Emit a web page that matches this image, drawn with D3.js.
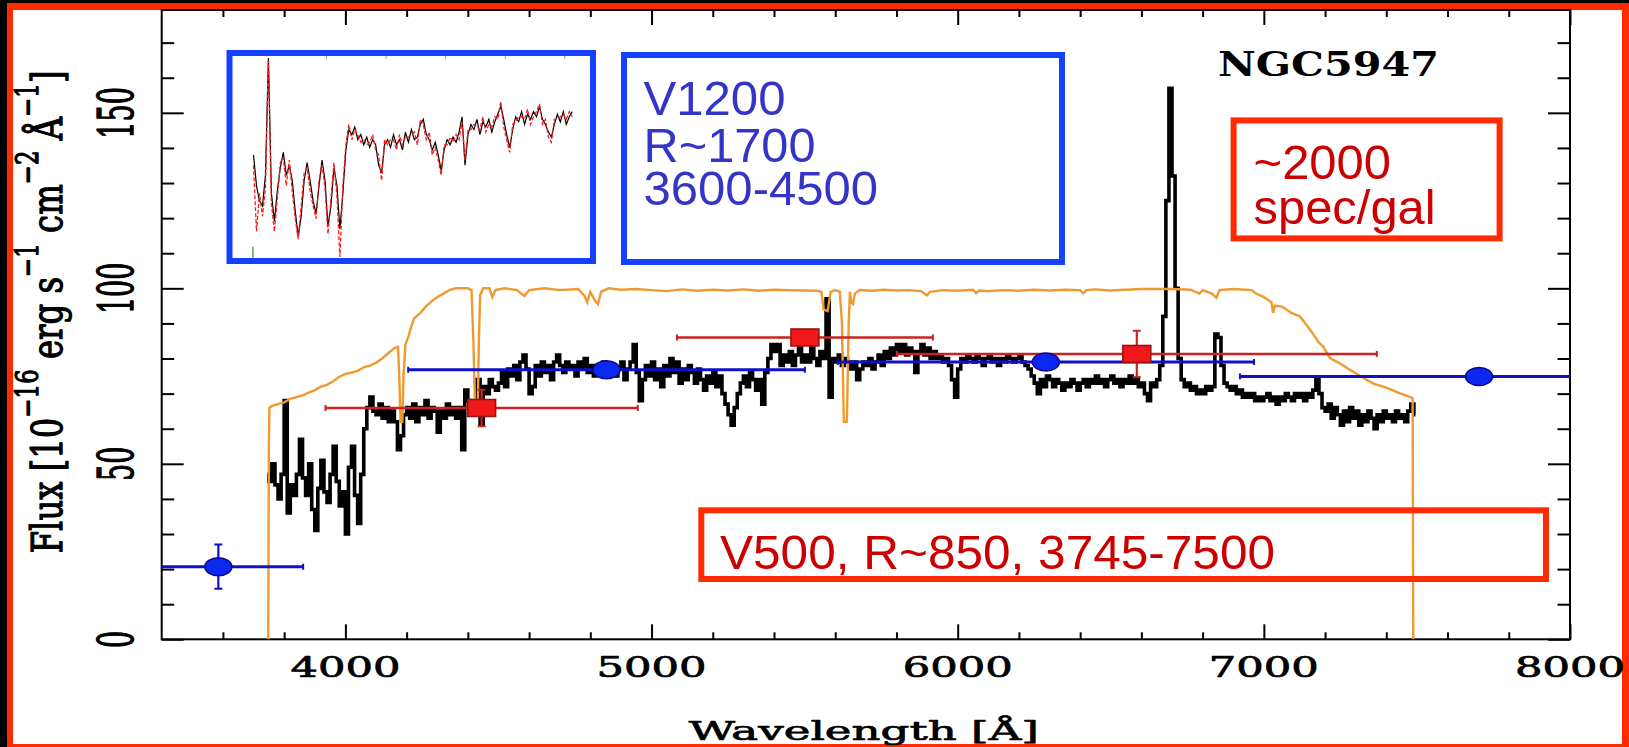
<!DOCTYPE html>
<html>
<head>
<meta charset="utf-8">
<script src="https://cdn.jsdelivr.net/npm/d3@7"></script>
<style>
  html, body { margin: 0; padding: 0; background: #000; overflow: hidden; }
  svg { display: block; }
</style>
</head>
<body>
<svg id="chart" width="1629" height="747"></svg>
<script>
// ---------------- data ----------------
const xMajorTicks = [4000, 5000, 6000, 7000, 8000];
const yMajorTicks = [0, 50, 100, 150];

// V500 spectrum of NGC5947, flux per 10 A bin starting at 3745 A
const v500Start = 3745, v500Step = 10;
const v500Flux = [
  47, 45, 50, 44, 40, 47, 68, 36, 44, 41, 47, 57, 46, 41, 50, 37, 31, 43, 51, 42,
  39, 47, 55, 45, 38, 42, 30, 49, 55, 41, 33, 47, 60, 66, 69, 65,
  64, 67, 63, 66, 62, 65, 62, 54, 58, 64, 66, 63, 67, 62, 66, 64, 68, 63, 66, 65,
  59, 65, 63, 67, 64, 66, 63, 66, 54, 71, 68, 66, 66, 74, 61, 72, 70, 74, 72, 71,
  73, 76, 72, 77, 75, 78, 74, 79, 81, 77, 70, 72, 78, 75, 79, 76, 78, 74, 79, 81,
  78, 76, 79, 77, 78, 75, 79, 77, 80, 76, 78, 75, 78, 76, 79, 77, 76, 78, 75, 77,
  79, 74, 77, 79, 84, 76, 68, 74, 78, 75,
  79, 74, 77, 72, 78, 75, 80, 76, 79, 73, 77, 74, 78, 76, 73, 77, 74, 71, 75, 73,
  76, 72, 75, 70, 67, 64, 61, 66, 70, 73, 75, 72, 76, 74, 71, 74, 67, 76, 80, 84,
  82, 84, 78, 81, 79, 82, 78, 81, 83, 79,
  81, 79, 83, 80, 78, 82, 80, 97, 69, 80, 79, 81, 78, 80, 79, 77, 79, 74, 77, 79,
  78, 80, 77, 79, 81, 78, 82, 80, 83, 81, 84, 82, 84, 81, 83, 82, 76, 82, 84, 81,
  83, 80, 82, 80, 81, 79, 80, 78, 74, 69,
  77, 80, 79, 81, 80, 79, 81, 80, 78, 80, 81, 79, 80, 78, 80, 79, 81, 80, 79, 80,
  81, 79, 78, 77, 75, 73, 70, 74, 72, 75, 74, 72, 74, 73, 71, 73, 72, 74, 73, 71,
  73, 74, 72, 74, 73, 75, 73, 74, 72, 74,
  75, 73, 74, 72, 74, 73, 75, 73, 74, 72, 73, 70, 68, 73, 72, 74, 78, 92, 125, 157,
  132, 100, 80, 74, 72, 73, 71, 72, 70, 71, 70, 72, 71, 72, 87, 86, 78, 73, 72, 71,
  72, 70, 71, 69, 70, 69, 70, 68, 69, 68,
  69, 70, 68, 69, 67, 69, 68, 70, 69, 68, 70, 69, 70, 68, 70, 69, 71, 74, 70, 66,
  65, 67, 63, 66, 64, 61, 65, 62, 66, 63, 65, 61, 64, 62, 65, 63, 60, 64, 62, 65,
  63, 64, 62, 65, 63, 64, 62, 65, 67, 64
];

// instrument throughput, scaled to the flux axis [wavelength, value]
const throughputCurve = [
  [3745, 0], [3748, 0], [3750, 55], [3752, 66], [3760, 66.5], [3780, 67], [3800, 67.5],
  [3820, 68.5], [3840, 69], [3860, 69.5], [3880, 70.3], [3900, 71], [3920, 72], [3940, 72.5],
  [3960, 73.5], [3980, 74.8], [4000, 75.6], [4020, 76], [4040, 76.5], [4060, 77.5], [4080, 78],
  [4100, 78.8], [4120, 80], [4140, 81.5], [4160, 83], [4172, 83.3], [4176, 75], [4180, 62],
  [4186, 62], [4190, 75], [4196, 84], [4205, 86], [4215, 89], [4225, 91.5], [4245, 93],
  [4265, 95], [4285, 96.5], [4300, 97.5], [4320, 98.5], [4340, 99.5], [4360, 100], [4400, 100],
  [4412, 99.5], [4418, 85], [4424, 64], [4432, 64], [4436, 85], [4440, 98], [4450, 100],
  [4470, 100], [4480, 97.5], [4490, 99.5], [4520, 100], [4560, 99.5], [4585, 97.8], [4600, 99.5],
  [4650, 100], [4700, 99.5], [4760, 99.8], [4780, 98], [4790, 96], [4800, 99], [4815, 96.5],
  [4825, 95.5], [4835, 99], [4860, 100], [4900, 99.6], [4950, 99.8], [5000, 99.5], [5050, 99.2],
  [5100, 99.7], [5150, 99.3], [5200, 99.6], [5250, 99.4], [5300, 99.7], [5350, 99.3], [5400, 99.6],
  [5450, 99.5], [5500, 99.4], [5540, 99.3], [5555, 99], [5562, 94], [5575, 93.5], [5585, 99],
  [5600, 99.5], [5615, 99], [5622, 90], [5628, 62], [5638, 62], [5644, 90], [5648, 99],
  [5652, 96], [5658, 95.5], [5664, 98.5], [5680, 99.5], [5720, 99.3], [5760, 99.6], [5800, 99.4],
  [5840, 99.5], [5880, 99.2], [5900, 98], [5910, 99], [5950, 99.5], [6000, 99.3], [6050, 99.6],
  [6060, 98.6], [6070, 99.4], [6100, 99.2], [6150, 99.5], [6200, 99.3], [6250, 99.6], [6300, 99.4],
  [6350, 99.6], [6400, 99.5], [6410, 98.6], [6420, 99.5], [6450, 99.7], [6500, 99.4], [6550, 99.6],
  [6600, 99.8], [6650, 99.8], [6700, 99.8], [6760, 99.6], [6790, 98.5], [6800, 99.5], [6830, 98.5],
  [6845, 97.3], [6855, 99.5], [6900, 99.8], [6960, 99.5], [6975, 98.5], [7000, 97.5], [7025, 96],
  [7030, 93], [7036, 95], [7060, 94.8], [7090, 93], [7118, 92], [7140, 89.5], [7162, 86.8],
  [7180, 84.5], [7194, 83.4], [7216, 80.1], [7250, 78.5], [7281, 76.8], [7310, 75.3], [7336, 73.9],
  [7360, 72.8], [7390, 72], [7420, 71], [7445, 70.1], [7470, 69.3], [7486, 68.7], [7488, 0]
];

// broad-band photometry (blue) and synthetic photometry (red)
const bandWave = [3585, 4853, 6288, 7703];
const bandFlux = [20.7, 76.8, 79.0, 74.9];
const bandHalfWidth = [277, 648, 680, 781];
const bandFluxErr = [6.3, 0, 0, 0];

const synthWave = [4445, 5501, 6585];
const synthFlux = [65.9, 86.0, 81.3];
const synthHalfWidth = [510, 418, 784];
const synthFluxErr = [5.2, 0, 6.6];

// V1200 blue spectrum (observed and model), 10 A bins from 3755 A
const v1200Start = 3755, v1200Step = 10;
const v1200Flux = [
  60, 48, 42, 40, 52, 98, 45, 34, 46, 55, 61, 52, 56, 50, 38, 28, 36, 50, 57, 50,
  42, 37, 48, 58, 50, 32, 40, 55, 48, 31, 45, 62, 70, 68, 71, 66, 68, 64, 67, 63,
  66, 64, 56, 53, 64, 66, 63, 68, 64, 66, 62, 69, 65, 70, 66, 67, 72, 74, 68, 66,
  62, 65, 60, 54, 62, 66, 64, 67, 65, 69, 75, 56, 68, 72, 70, 74, 68, 73, 71, 74,
  69, 73, 76, 79, 74, 68, 63, 70, 75, 73, 77, 72, 76, 74, 77, 75, 79, 74, 72, 69,
  67, 72, 76, 73, 77, 72, 75, 77
];
const v1200Model = [
  56, 30, 45, 36, 47, 97, 41, 30, 43, 57, 59, 48, 58, 46, 35, 27, 40, 53, 55, 46,
  40, 35, 50, 56, 47, 29, 43, 57, 44, 20, 48, 64, 72, 66, 70, 68, 65, 66, 64, 65,
  68, 62, 60, 50, 66, 64, 66, 66, 62, 68, 64, 67, 67, 68, 69, 64, 74, 72, 66, 69,
  60, 63, 58, 52, 64, 64, 67, 65, 68, 66, 73, 58, 70, 70, 72, 71, 70, 75, 69, 72,
  71, 75, 74, 81, 71, 66, 61, 72, 73, 75, 75, 74, 78, 72, 75, 77, 80, 72, 74, 67,
  65, 74, 74, 75, 76, 74, 77, 75
];
const v1200Ticks = [4000, 4200, 4400, 4600, 4800];
const v1200Marker = [[3753, 19.6], [3753, 24]];

// annotation texts
const v1200Lines = ['V1200', 'R~1700', '3600-4500'];
const sampleLines = ['~2000', 'spec/gal'];
const v500Note = 'V500, R~850, 3745-7500';

// ---------------- layout ----------------
const W = 1629, H = 747;
const plot = { left: 161.7, right: 1570, top: 10, bottom: 639.3 };
const serif = "'DejaVu Serif', serif";
const sans = "'Liberation Sans', Arial, sans-serif";

const svg = d3.select('#chart');

// page frame
svg.append('rect').attr('width', W).attr('height', H).attr('fill', '#000');
svg.append('rect').attr('x', 7).attr('y', 3).attr('width', W).attr('height', H).attr('fill', '#ff2a00');
svg.append('rect').attr('x', 13).attr('y', 10).attr('width', 1609).attr('height', 734).attr('fill', '#fff');

const x = d3.scaleLinear().domain([3400, 8000]).range([plot.left, plot.right]);
const y = d3.scaleLinear().domain([0, 179.3]).range([plot.bottom, plot.top]);

svg.append('clipPath').attr('id', 'plotClip').append('rect')
  .attr('x', plot.left).attr('y', plot.top)
  .attr('width', plot.right - plot.left).attr('height', plot.bottom - plot.top);

// ---------------- axes ----------------
const xMinor = d3.range(3600, 8000, 200).filter(v => v % 1000 !== 0);
const yMinor = d3.range(10, 180, 10).filter(v => v % 50 !== 0);

function styleAxis(g) {
  g.select('.domain').remove();
  g.selectAll('line').attr('stroke', '#000').attr('stroke-width', 2);
  g.selectAll('text').remove();
}
const axes = svg.append('g');
axes.append('g').attr('transform', `translate(0,${plot.bottom})`)
  .call(d3.axisBottom(x).tickValues(xMajorTicks).tickSize(-15)).call(styleAxis);
axes.append('g').attr('transform', `translate(0,${plot.bottom})`)
  .call(d3.axisBottom(x).tickValues(xMinor).tickSize(-7)).call(styleAxis);
axes.append('g').attr('transform', `translate(0,${plot.top})`)
  .call(d3.axisTop(x).tickValues(xMajorTicks).tickSize(-15)).call(styleAxis);
axes.append('g').attr('transform', `translate(0,${plot.top})`)
  .call(d3.axisTop(x).tickValues(xMinor).tickSize(-7)).call(styleAxis);
axes.append('g').attr('transform', `translate(${plot.left},0)`)
  .call(d3.axisLeft(y).tickValues(yMajorTicks).tickSize(-22)).call(styleAxis);
axes.append('g').attr('transform', `translate(${plot.left},0)`)
  .call(d3.axisLeft(y).tickValues(yMinor).tickSize(-12.5)).call(styleAxis);
axes.append('g').attr('transform', `translate(${plot.right},0)`)
  .call(d3.axisRight(y).tickValues(yMajorTicks).tickSize(-22)).call(styleAxis);
axes.append('g').attr('transform', `translate(${plot.right},0)`)
  .call(d3.axisRight(y).tickValues(yMinor).tickSize(-12.5)).call(styleAxis);
axes.append('rect').attr('x', plot.left).attr('y', plot.top)
  .attr('width', plot.right - plot.left).attr('height', plot.bottom - plot.top)
  .attr('fill', 'none').attr('stroke', '#000').attr('stroke-width', 2);

// plotter-style text: serif glyphs with a slightly thickened outline
function plotterText(sel, size) {
  return sel.attr('font-family', serif).attr('font-size', size)
    .attr('fill', '#000').attr('stroke', '#000').attr('stroke-width', 0.7)
    .attr('stroke-linejoin', 'round');
}

// x tick labels (wide plotter digits)
xMajorTicks.forEach(v => {
  plotterText(svg.append('text'), 28).attr('x', x(v)).attr('y', 677)
    .attr('text-anchor', 'middle')
    .attr('textLength', 110).attr('lengthAdjust', 'spacingAndGlyphs').text(v);
});
// y tick labels, rotated
yMajorTicks.forEach(v => {
  const s = String(v);
  plotterText(svg.append('text'), 24)
    .attr('transform', `translate(133,${y(v)}) scale(2,1) rotate(-90)`)
    .attr('text-anchor', 'middle')
    .attr('textLength', 17.2 * s.length).attr('lengthAdjust', 'spacingAndGlyphs').text(s);
});

// axis titles
plotterText(svg.append('text'), 26).attr('x', (plot.left + plot.right) / 2 - 2).attr('y', 740)
  .attr('text-anchor', 'middle')
  .attr('textLength', 350).attr('lengthAdjust', 'spacingAndGlyphs').text('Wavelength [Å]');

const yTitle = plotterText(svg.append('text'), 24);
const yTitleParts = [
  ['Flux [10', 0], ['\u221216', 1], [' erg s', 0], ['\u22121', 1], [' cm', 0],
  ['\u22122', 1], [' Å', 0], ['\u22121', 1], [']', 0]
];
let raised = false;
yTitleParts.forEach(([t, sup]) => {
  const ts = yTitle.append('tspan').text(t);
  if (sup && !raised) { ts.attr('dy', -13).attr('font-size', 17); raised = true; }
  else if (sup) { ts.attr('font-size', 17); }
  else if (!sup && raised) { ts.attr('dy', 13); raised = false; }
});
const yTitleLen = yTitle.node().getComputedTextLength();
yTitle.attr('transform', `translate(62,553.3) scale(1.81,${483 / yTitleLen}) rotate(-90)`);

// ---------------- plotted data ----------------
const data = svg.append('g').attr('clip-path', 'url(#plotClip)');

const spectrum = v500Flux.map((f, i) => [v500Start + i * v500Step, f]);
data.append('path').datum(spectrum)
  .attr('d', d3.line().x(d => x(d[0])).y(d => y(d[1])).curve(d3.curveStep))
  .attr('fill', 'none').attr('stroke', '#000').attr('stroke-width', 3.6);

data.append('path').datum(throughputCurve)
  .attr('d', d3.line().x(d => x(d[0])).y(d => y(d[1])))
  .attr('fill', 'none').attr('stroke', '#f0992f').attr('stroke-width', 2.4);

function errorBars(waves, fluxes, halfW, errs, color, width) {
  waves.forEach((w, i) => {
    const cy = y(fluxes[i]);
    const x0 = x(w - halfW[i]), x1 = x(w + halfW[i]);
    data.append('line').attr('x1', x0).attr('x2', x1).attr('y1', cy).attr('y2', cy)
      .attr('stroke', color).attr('stroke-width', width);
    [x0, x1].forEach(xe => data.append('line').attr('x1', xe).attr('x2', xe)
      .attr('y1', cy - 3).attr('y2', cy + 3).attr('stroke', color).attr('stroke-width', 2));
    if (errs[i] > 0) {
      const y0 = y(fluxes[i] - errs[i]), y1 = y(fluxes[i] + errs[i]);
      const cx = x(w);
      data.append('line').attr('x1', cx).attr('x2', cx).attr('y1', y0).attr('y2', y1)
        .attr('stroke', color).attr('stroke-width', 2.2);
      [y0, y1].forEach(ye => data.append('line').attr('x1', cx - 4).attr('x2', cx + 4)
        .attr('y1', ye).attr('y2', ye).attr('stroke', color).attr('stroke-width', 2));
    }
  });
}
errorBars(bandWave, bandFlux, bandHalfWidth, bandFluxErr, '#1010c8', 3);
errorBars(synthWave, synthFlux, synthHalfWidth, synthFluxErr, '#cc2222', 2.5);

bandWave.forEach((w, i) => {
  data.append('ellipse').attr('cx', x(w)).attr('cy', y(bandFlux[i]))
    .attr('rx', 13.5).attr('ry', 9)
    .attr('fill', '#0a28f0').attr('stroke', '#0a0a90').attr('stroke-width', 1.5);
});
synthWave.forEach((w, i) => {
  data.append('rect').attr('x', x(w) - 14).attr('y', y(synthFlux[i]) - 8.5)
    .attr('width', 28).attr('height', 17)
    .attr('fill', '#f01818').attr('stroke', '#9a1010').attr('stroke-width', 1.5);
});

// galaxy name
svg.append('text').attr('x', 1218).attr('y', 76)
  .attr('font-family', serif).attr('font-weight', 'bold').attr('font-size', 34)
  .attr('textLength', 221).attr('lengthAdjust', 'spacingAndGlyphs')
  .attr('fill', '#000').text('NGC5947');

// ---------------- V1200 inset ----------------
const ix = d3.scaleLinear().domain([4000, 4800]).range([326.5, 564.8]);
const iy = d3.scaleLinear().domain([0, 100]).range([308, 53]);
const inset = svg.append('g');
v1200Ticks.forEach(t => {
  inset.append('line').attr('x1', ix(t)).attr('x2', ix(t)).attr('y1', 56).attr('y2', 59)
    .attr('stroke', '#999').attr('stroke-width', 1);
});
const insetLine = d3.line().x(d => ix(d[0])).y(d => iy(d[1]));
inset.append('path').datum(v1200Flux.map((f, i) => [v1200Start + i * v1200Step, f]))
  .attr('d', insetLine).attr('fill', 'none').attr('stroke', '#000').attr('stroke-width', 1.2);
inset.append('path').datum(v1200Model.map((f, i) => [v1200Start + i * v1200Step, f]))
  .attr('d', insetLine).attr('fill', 'none').attr('stroke', '#ff1a1a')
  .attr('stroke-width', 1.3).attr('stroke-dasharray', '4,2');
inset.append('path').datum(v1200Marker)
  .attr('d', insetLine).attr('fill', 'none').attr('stroke', '#1a9a1a').attr('stroke-width', 1.2);

// ---------------- annotation boxes ----------------
function box(x0, y0, w, h, color) {
  svg.append('rect').attr('x', x0).attr('y', y0).attr('width', w).attr('height', h)
    .attr('fill', 'none').attr('stroke', color).attr('stroke-width', 6);
}
// one text element per box; each line is a tspan with its own width
function note(lines, x0, baselines, lengths, color) {
  const t = svg.append('text').attr('font-family', sans).attr('font-size', 49).attr('fill', color);
  lines.forEach((s, i) => {
    t.append('tspan').attr('x', x0).attr('y', baselines[i])
      .attr('textLength', lengths[i]).attr('lengthAdjust', 'spacingAndGlyphs').text(s);
  });
}
box(229.5, 53, 363.5, 208, '#1440ff');
box(624, 55, 438, 207, '#1440ff');
note(v1200Lines, 643.5, [115, 161.5, 205], [142, 172, 234.6], '#3434c8');

box(1233.6, 120.4, 266, 118, '#ff2a00');
note(sampleLines, 1253.6, [179, 224.4], [137.4, 182], '#cc0000');

box(701.3, 510.3, 844.7, 68.7, '#ff2a00');
note([v500Note], 720, [568.5], [555], '#cc0000');
</script>
</body>
</html>
